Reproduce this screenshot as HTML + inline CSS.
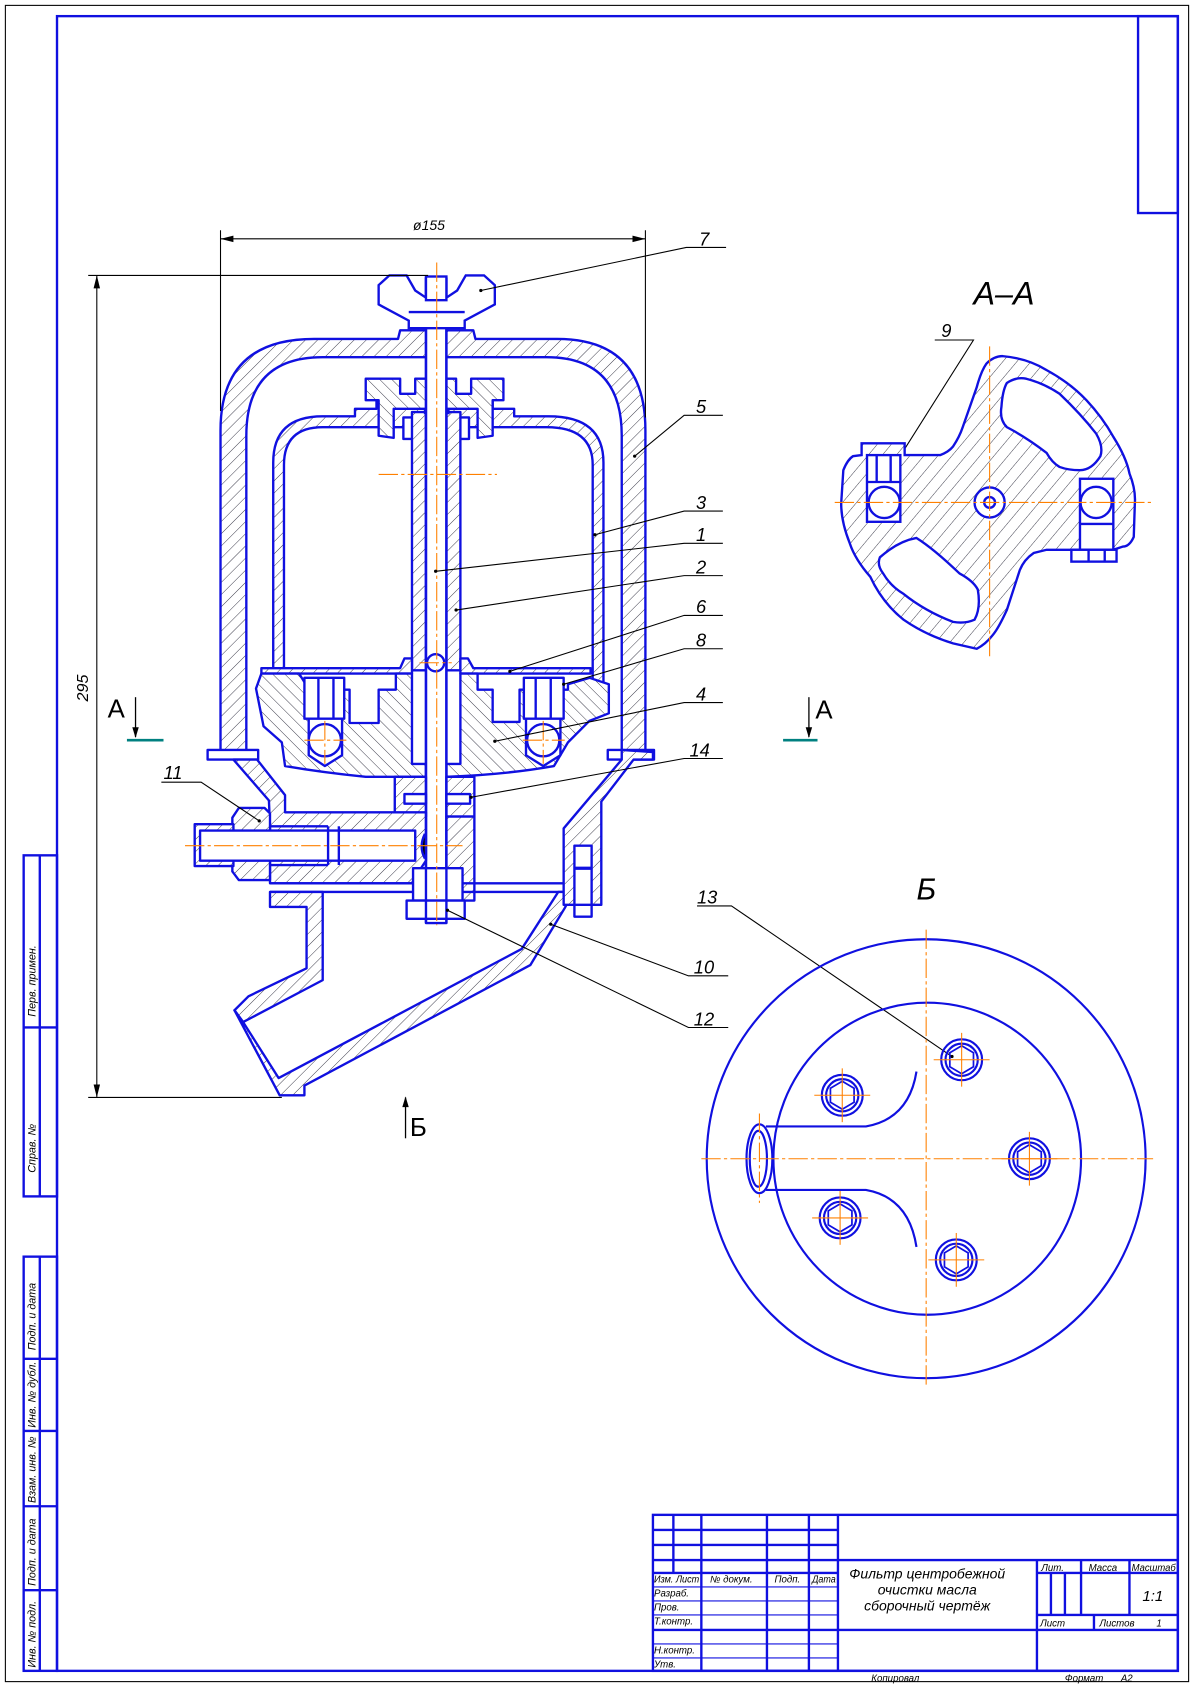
<!DOCTYPE html>
<html><head><meta charset="utf-8"><style>
html,body{margin:0;padding:0;background:#fff;}
svg{display:block}
text{font-family:"Liberation Sans","DejaVu Sans",sans-serif;font-style:italic;fill:#000}
</style></head><body>
<svg width="1194" height="1687" viewBox="0 0 1110 1568" preserveAspectRatio="none" xmlns="http://www.w3.org/2000/svg">
<defs>
<pattern id="h" width="8" height="8" patternUnits="userSpaceOnUse" patternTransform="rotate(45)">
<rect width="8" height="8" fill="#fff"/><line x1="0" y1="0" x2="0" y2="8" stroke="#223" stroke-width="0.8"/></pattern>
<pattern id="h2" width="8" height="8" patternUnits="userSpaceOnUse" patternTransform="rotate(-45)">
<rect width="8" height="8" fill="#fff"/><line x1="0" y1="0" x2="0" y2="8" stroke="#223" stroke-width="0.8"/></pattern>
<pattern id="h3" width="10" height="10" patternUnits="userSpaceOnUse" patternTransform="rotate(40)">
<rect width="10" height="10" fill="#fff"/><line x1="0" y1="0" x2="0" y2="10" stroke="#223" stroke-width="0.8"/></pattern>
</defs>
<g fill="none" stroke="#000" stroke-width="1">
<rect x="5" y="5" width="1100" height="1558"/>
</g>
<g fill="none" stroke="#1010e0" stroke-width="2.2">
<rect x="53" y="15" width="1042" height="1538"/>
<rect x="1058" y="15" width="37" height="183"/>
<rect x="22" y="795" width="31" height="317"/>
<line x1="37" y1="795" x2="37" y2="1112"/><line x1="22" y1="955" x2="53" y2="955"/>
<rect x="22" y="1168" width="31" height="385"/>
<line x1="37" y1="1168" x2="37" y2="1553"/>
<line x1="22" y1="1263" x2="53" y2="1263"/><line x1="22" y1="1330" x2="53" y2="1330"/>
<line x1="22" y1="1400" x2="53" y2="1400"/><line x1="22" y1="1478" x2="53" y2="1478"/>
<rect x="607" y="1408" width="488" height="145"/>
<line x1="626" y1="1408" x2="626" y2="1462"/><line x1="652" y1="1408" x2="652" y2="1553"/>
<line x1="713" y1="1408" x2="713" y2="1553"/><line x1="752" y1="1408" x2="752" y2="1553"/>
<line x1="779" y1="1408" x2="779" y2="1553"/>
<line x1="607" y1="1422" x2="779" y2="1422"/><line x1="607" y1="1436" x2="779" y2="1436"/>
<line x1="607" y1="1450" x2="1095" y2="1450"/><line x1="607" y1="1462" x2="779" y2="1462"/>
<line x1="607" y1="1515" x2="1095" y2="1515"/>
<line x1="964" y1="1450" x2="964" y2="1553"/>
<line x1="964" y1="1462" x2="1095" y2="1462"/><line x1="964" y1="1501" x2="1095" y2="1501"/>
<line x1="977" y1="1462" x2="977" y2="1501"/><line x1="990" y1="1462" x2="990" y2="1501"/>
<line x1="1005" y1="1450" x2="1005" y2="1501"/><line x1="1050" y1="1450" x2="1050" y2="1501"/>
<line x1="1017" y1="1501" x2="1017" y2="1515"/>
</g>
<g stroke="#1010e0" stroke-width="1">
<line x1="607" y1="1475" x2="652" y2="1475"/><line x1="607" y1="1488" x2="652" y2="1488"/>
<line x1="607" y1="1501" x2="652" y2="1501"/><line x1="607" y1="1528" x2="652" y2="1528"/>
<line x1="607" y1="1541" x2="652" y2="1541"/>
<line x1="652" y1="1475" x2="779" y2="1475"/><line x1="652" y1="1488" x2="779" y2="1488"/>
<line x1="652" y1="1501" x2="779" y2="1501"/><line x1="652" y1="1528" x2="779" y2="1528"/><line x1="652" y1="1541" x2="779" y2="1541"/>
</g>
<g font-size="9">
<text x="608" y="1471" textLength="42" lengthAdjust="spacingAndGlyphs">Изм. Лист</text><text x="660" y="1471">№ докум.</text><text x="720" y="1471">Подп.</text><text x="755" y="1471" textLength="22" lengthAdjust="spacingAndGlyphs">Дата</text>
<text x="608" y="1484">Разраб.</text><text x="608" y="1497">Пров.</text><text x="608" y="1510">Т.контр.</text>
<text x="608" y="1537">Н.контр.</text><text x="608" y="1550">Утв.</text>
<text x="968" y="1460">Лит.</text><text x="1012" y="1460">Масса</text><text x="1052" y="1460" textLength="41" lengthAdjust="spacingAndGlyphs">Масштаб</text>
<text x="967" y="1512">Лист</text><text x="1022" y="1512">Листов</text><text x="1075" y="1512">1</text>
<text x="810" y="1563">Копировал</text><text x="990" y="1563">Формат</text><text x="1042" y="1563">А2</text>
</g>
<text x="1062" y="1488" font-size="14">1:1</text>
<g font-size="13" text-anchor="middle"><text x="862" y="1467">Фильтр центробежной</text><text x="862" y="1482">очистки масла</text><text x="862" y="1497">сборочный чертёж</text></g>
<g font-size="10">
<text transform="translate(33,945) rotate(-90)">Перв. примен.</text>
<text transform="translate(33,1090) rotate(-90)">Справ. №</text>
<text transform="translate(33,1255) rotate(-90)">Подп. и дата</text>
<text transform="translate(33,1327) rotate(-90)">Инв. № дубл.</text>
<text transform="translate(33,1397) rotate(-90)">Взам. инв. №</text>
<text transform="translate(33,1474) rotate(-90)">Подп. и дата</text>
<text transform="translate(33,1550) rotate(-90)">Инв. № подл.</text>
</g>

<g stroke="#1010e0" stroke-width="2.2" stroke-linejoin="round">
<path fill="url(#h)" fill-rule="evenodd" d="M205 700 L205 400 Q205 315 292 315 L370 315 L372 307 L440 307 L442 315 L518 315 Q600 315 600 400 L600 700 L578 700 L578 405 Q578 332 508 332 L300 332 Q229 332 229 405 L229 700 Z"/>
<path fill="#fff" d="M193 697 L240 697 L240 706 L193 706 Z"/>
<path fill="#fff" d="M565 697 L608 697 L608 706 L565 706 Z"/>
<path fill="url(#h)" fill-rule="evenodd" d="M254 650 L254 430 Q254 387 300 387 L330 387 L330 380 L350 380 L350 372 L458 372 L458 380 L478 380 L478 387 L510 387 Q561 387 561 430 L561 650 L551 650 L551 432 Q551 397 508 397 L300 397 Q264 397 264 432 L264 650 Z"/>
<path fill="url(#h2)" d="M340 352 L372 352 L372 366 L386 366 L386 352 L424 352 L424 366 L438 366 L438 352 L468 352 L468 372 L458 372 L458 405 L444 407 L444 380 L366 380 L366 407 L352 405 L352 372 L340 372 Z"/>
<rect x="375" y="388" width="12" height="20" fill="#fff"/><rect x="424" y="388" width="12" height="20" fill="#fff"/>
<rect x="383" y="383" width="13" height="240" fill="url(#h)"/>
<rect x="415" y="383" width="13" height="240" fill="url(#h)"/>
<line x1="394" y1="383" x2="418" y2="383" stroke-width="4"/>
<path fill="url(#h)" d="M243 621 L372 621 L376 612 L383 612 L383 626 L243 626 Z"/>
<path fill="url(#h)" d="M428 612 L435 612 L440 621 L549 621 L549 626 L428 626 Z"/>
<path fill="url(#h2)" d="M243 626 L278 626 L283 634 L300 634 L300 641 L325 641 L325 672 L352 672 L352 641 L368 641 L368 626 L383 626 L383 710 L396 710 L396 722 L340 722 Q300 718 265 712 L262 690 L245 675 L238 640 Z"/>
<path fill="url(#h2)" d="M428 626 L444 626 L444 641 L458 641 L458 671 L483 671 L483 641 L528 641 L528 636 L548 630 L566 636 L566 663 L548 670 L528 690 L515 712 Q470 720 415 722 L415 710 L428 710 Z"/>
<rect x="283" y="630" width="37" height="38" fill="#fff"/>
<rect x="487" y="630" width="37" height="38" fill="#fff"/>
<path fill="#fff" d="M287 668 L318 668 L318 702 L302 712 L287 702 Z"/>
<path fill="#fff" d="M489 668 L521 668 L521 702 L505 712 L489 702 Z"/>
<circle cx="302" cy="688" r="15" fill="#fff"/><circle cx="505" cy="688" r="15" fill="#fff"/>
<line x1="296" y1="630" x2="296" y2="668"/><line x1="310" y1="630" x2="310" y2="668"/>
<line x1="498" y1="630" x2="498" y2="668"/><line x1="512" y1="630" x2="512" y2="668"/>
<rect x="396" y="258" width="19" height="600" fill="#fff"/>
<circle cx="405" cy="616" r="8" fill="#fff"/>
<path fill="url(#h)" d="M367 722 L396 722 L396 759 L367 759 Z"/>
<path fill="url(#h)" d="M415 722 L441 722 L441 759 L415 759 Z"/>
<rect x="376" y="738" width="20" height="9" fill="#fff"/><rect x="415" y="738" width="22" height="9" fill="#fff"/>
<path fill="url(#h)" d="M217 706 L239 706 L265 739 L265 755 L396 755 L396 800 L386 815 L383 821 L251 821 L251 768 L250 744 Z"/>
<path fill="url(#h)" d="M415 759 L441 759 L441 837 L415 837 Z"/>
<path fill="url(#h)" d="M222 751 L246 751 L251 756 L251 818 L222 818 L216 810 L216 760 Z"/>
<rect x="181" y="766" width="36" height="39" fill="url(#h)"/>
<rect x="186" y="772" width="200" height="28" fill="#fff"/>
<line x1="251" y1="768" x2="305" y2="768"/><line x1="251" y1="804" x2="305" y2="804"/>
<line x1="305" y1="768" x2="305" y2="804"/><line x1="315" y1="768" x2="315" y2="804"/>
<path d="M395 775 Q389 787 395 798"/>
<line x1="251" y1="821" x2="533" y2="821"/><line x1="251" y1="829" x2="533" y2="829"/>
<rect x="384" y="807" width="46" height="30" fill="#fff"/>
<rect x="378" y="837" width="54" height="17" fill="#fff"/>
<path fill="url(#h)" d="M251 829 L300 829 L300 911 L226 950 L218 939 L231 926 L285 900 L285 843 L251 843 Z"/>
<path fill="url(#h)" d="M218 939 L226 950 L259 1002 L485 882 L519 829 L533 829 L525 844 L493 897 L283 1009 L283 1018 L260 1018 Z"/>
<path fill="url(#h)" d="M578 697 L607 699 L607 706 L589 706 L559 745 L559 841 L524 841 L524 770 L578 706 Z"/>
<rect x="534" y="786" width="16" height="66" fill="#fff"/>
<line x1="534" y1="807" x2="550" y2="807" stroke-width="3"/><line x1="534" y1="841" x2="550" y2="841"/>
</g>
<g stroke="#1010e0" stroke-width="2.2" fill="none">
<line x1="396" y1="258" x2="396" y2="858"/><line x1="415" y1="258" x2="415" y2="858"/>
<path fill="#fff" d="M380 298 L352 283 L352 265 L362 256 L378 256 L386 270 L395 276 L416 276 L425 270 L433 256 L450 256 L460 265 L460 283 L432 298 L432 305 L380 305 Z"/>
<rect x="396" y="257" width="19" height="22" fill="#fff"/>
<line x1="380" y1="290" x2="432" y2="290"/>
</g>
<g stroke="#ff8000" stroke-width="1" stroke-dasharray="18 3 3 3" fill="none">
<line x1="406" y1="244" x2="406" y2="860"/>
<line x1="352" y1="441" x2="462" y2="441"/>
<line x1="172" y1="786" x2="430" y2="786"/>
<line x1="283" y1="688" x2="322" y2="688"/><line x1="302" y1="670" x2="302" y2="710"/>
<line x1="486" y1="688" x2="525" y2="688"/><line x1="505" y1="670" x2="505" y2="710"/>
<line x1="390" y1="616" x2="420" y2="616"/>
</g>
<g stroke="#000" stroke-width="1" fill="none">
<line x1="205" y1="214" x2="205" y2="382"/><line x1="600" y1="214" x2="600" y2="388"/>
<line x1="205" y1="222" x2="600" y2="222"/>
<line x1="82" y1="256" x2="398" y2="256"/><line x1="82" y1="1020" x2="262" y2="1020"/>
<line x1="90" y1="256" x2="90" y2="1020"/>
<polyline points="675,230 638,230 447,270"/>
<polyline points="672,386 636,386 590,424"/>
<polyline points="672,475 636,475 553,497"/>
<polyline points="672,505 636,505 405,531"/>
<polyline points="672,535 636,535 424,567"/>
<polyline points="672,572 636,572 474,624"/>
<polyline points="672,603 636,603 524,636"/>
<polyline points="672,653 636,653 460,689"/>
<polyline points="672,705 636,705 438,741"/>
<polyline points="677,907 640,907 512,859"/>
<polyline points="677,955 640,955 416,846"/>
<polyline points="150,727 187,727 241,763"/>
<polyline points="648,842 680,842 885,982"/>
<polyline points="869,316 905,316 838,422"/>
</g>
<g fill="#000">
<path d="M205 222 l12 -3 v6z"/><path d="M600 222 l-12 -3 v6z"/>
<path d="M90 256 l-3 12 h6z"/><path d="M90 1020 l-3 -12 h6z"/>
<circle cx="447" cy="270" r="1.5"/><circle cx="590" cy="424" r="1.5"/><circle cx="553" cy="497" r="1.5"/>
<circle cx="405" cy="531" r="1.5"/><circle cx="424" cy="567" r="1.5"/><circle cx="474" cy="624" r="1.5"/>
<circle cx="524" cy="636" r="1.5"/><circle cx="460" cy="689" r="1.5"/><circle cx="438" cy="741" r="1.5"/>
<circle cx="512" cy="859" r="1.5"/><circle cx="416" cy="846" r="1.5"/><circle cx="241" cy="763" r="1.5"/>
<circle cx="885" cy="982" r="1.5"/><circle cx="838" cy="422" r="1.5"/>
</g>
<g font-size="17">
<text x="384" y="214" font-size="13">ø155</text>
<text transform="translate(82,652) rotate(-90)" font-size="15">295</text>
<text x="650" y="228">7</text><text x="647" y="384">5</text><text x="647" y="473">3</text>
<text x="647" y="503">1</text><text x="647" y="533">2</text><text x="647" y="570">6</text>
<text x="647" y="601">8</text><text x="647" y="651">4</text><text x="641" y="703">14</text>
<text x="645" y="905">10</text><text x="645" y="953">12</text><text x="152" y="724">11</text>
<text x="648" y="840">13</text><text x="875" y="313">9</text>
</g>
<g font-size="24">
<text x="100" y="667" style="font-style:normal">A</text>
<text x="758" y="668" style="font-style:normal">A</text>
<text x="381" y="1056" style="font-style:normal">Б</text>
<text x="905" y="283" font-size="30">A–A</text>
<text x="852" y="836" font-size="28">Б</text>
</g>
<g stroke="#000" stroke-width="1.2">
<line x1="126" y1="648" x2="126" y2="685"/><line x1="752" y1="648" x2="752" y2="685"/>
<line x1="377" y1="1058" x2="377" y2="1020"/>
</g>
<g fill="#000"><path d="M126 686 l-3 -10 h6z"/><path d="M752 686 l-3 -10 h6z"/><path d="M377 1019 l-3 10 h6z"/></g>
<g stroke="#008080" stroke-width="2.5"><line x1="118" y1="688" x2="152" y2="688"/><line x1="728" y1="688" x2="760" y2="688"/></g>

<g stroke="#1010e0" stroke-width="2.2">
<path fill="url(#h3)" fill-rule="evenodd" d="M932 331 Q955 333 973 344 Q995 356 1010 372 Q1025 388 1035 406 Q1047 425 1050 440 Q1056 455 1055 468 L1054 499 Q1050 508 1044 508 L1035 511 L973 511 L961 514 Q952 520 948 530 L936 567 Q930 580 926 586 Q918 598 908 603 L886 598 Q860 590 840 576 Q820 560 809 536 Q795 520 790 505 Q782 485 782 468 L784 437 Q788 427 793 424 L801 423 L801 412 L841 412 L841 423 L874 423 Q882 420 886 415 Q892 406 895 397 L908 360 Q912 345 917 338 Q924 331 932 331 Z
M936 356 Q945 350 954 352 Q970 356 985 366 Q1005 385 1019 403 Q1026 415 1023 424 Q1015 437 1004 437 Q993 437 985 434 Q978 430 973 421 Q955 407 936 397 Q929 390 931 378 Q932 363 936 356 Z
M818 518 Q835 503 852 500 Q868 510 892 533 Q905 540 909 548 Q912 565 906 576 Q897 580 886 578 Q860 568 840 552 Q828 545 821 533 Q815 525 818 518 Z"/>
<rect x="806" y="423" width="31" height="62" fill="#fff"/>
<rect x="1004" y="445" width="31" height="66" fill="#fff"/>
<rect x="996" y="511" width="42" height="11" fill="#fff"/>
<circle cx="822" cy="467" r="14.5" fill="#fff"/><circle cx="1019" cy="467" r="14.5" fill="#fff"/>
<path fill="none" d="M806 448 L837 448 M815 423 L815 448 M828 423 L828 448 M1004 487 L1035 487 M1012 511 L1012 522 M1027 511 L1027 522"/>
<circle cx="920" cy="467" r="14" fill="#fff"/><circle cx="920" cy="467" r="5" fill="#fff"/>
</g>
<g stroke="#ff8000" stroke-width="1" stroke-dasharray="18 3 3 3">
<line x1="776" y1="467" x2="1070" y2="467"/><line x1="920" y1="322" x2="920" y2="612"/>
</g>

<g stroke="#1010e0" stroke-width="2" fill="none">
<circle cx="861" cy="1077" r="204"/>
<ellipse cx="862" cy="1077" rx="143" ry="145"/>
<ellipse cx="706" cy="1077" rx="12" ry="32" fill="#fff"/>
<ellipse cx="705" cy="1077" rx="8" ry="26"/>
<path d="M712 1047 L805 1047 Q845 1040 852 996"/>
<path d="M712 1106 L805 1106 Q845 1113 852 1159"/>
<circle cx="894" cy="985" r="19"/><circle cx="894" cy="985" r="15"/>
<circle cx="783" cy="1018" r="19"/><circle cx="783" cy="1018" r="15"/>
<circle cx="957" cy="1077" r="19"/><circle cx="957" cy="1077" r="15"/>
<circle cx="781" cy="1132" r="19"/><circle cx="781" cy="1132" r="15"/>
<circle cx="889" cy="1171" r="19"/><circle cx="889" cy="1171" r="15"/>
<g stroke-width="1.6">
<polygon points="894,972 905,978.5 905,991.5 894,998 883,991.5 883,978.5"/>
<polygon points="783,1005 794,1011.5 794,1024.5 783,1031 772,1024.5 772,1011.5"/>
<polygon points="957,1064 968,1070.5 968,1083.5 957,1090 946,1083.5 946,1070.5"/>
<polygon points="781,1119 792,1125.5 792,1138.5 781,1145 770,1138.5 770,1125.5"/>
<polygon points="889,1158 900,1164.5 900,1177.5 889,1184 878,1177.5 878,1164.5"/>
</g>
</g>
<g stroke="#ff8000" stroke-width="1" stroke-dasharray="18 3 3 3">
<line x1="652" y1="1077" x2="1072" y2="1077"/><line x1="861" y1="864" x2="861" y2="1290"/>
<line x1="706" y1="1035" x2="706" y2="1118"/>
</g>
<g stroke="#ff8000" stroke-width="1">
<line x1="868" y1="985" x2="920" y2="985"/><line x1="894" y1="960" x2="894" y2="1010"/>
<line x1="757" y1="1018" x2="809" y2="1018"/><line x1="783" y1="993" x2="783" y2="1043"/>
<line x1="931" y1="1077" x2="983" y2="1077"/><line x1="957" y1="1052" x2="957" y2="1102"/>
<line x1="755" y1="1132" x2="807" y2="1132"/><line x1="781" y1="1107" x2="781" y2="1157"/>
<line x1="863" y1="1171" x2="915" y2="1171"/><line x1="889" y1="1146" x2="889" y2="1196"/>
</g>
</svg>
</body></html>
